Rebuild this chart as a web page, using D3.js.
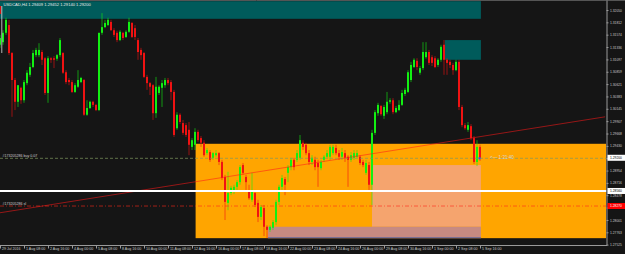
<!DOCTYPE html>
<html>
<head>
<meta charset="utf-8">
<script src="https://cdn.jsdelivr.net/npm/d3@7"></script>
<style>
  html, body { margin: 0; padding: 0; background: #151515; overflow: hidden; }
  svg { display: block; }
  text { font-family: "Liberation Sans", Arial, sans-serif; }
</style>
</head>
<body>
<div id="chart"></div>
<script>
// --- Data (USDCAD, H4) ---
const symbol = "USDCAD,H4";

// bar 0 = 29 Jul 2016 00:00, one bar every 4 hours
const opens = [
  1.3138,1.3143,1.3161,1.3176,1.3122,1.3070,1.3028,1.3055,1.3031,1.3064,
  1.3080,1.3095,1.3118,1.3118,1.3124,1.3112,1.3045,1.3112,1.3112,1.3111,
  1.3118,1.3122,1.3085,1.3070,1.3066,1.3047,1.3057,1.3066,1.3070,1.3003,
  1.3016,1.3028,1.3022,1.3012,1.3161,1.3172,1.3176,1.3182,1.3166,1.3161,
  1.3147,1.3161,1.3153,1.3163,1.3180,1.3170,1.3147,1.3128,1.3122,1.3076,
  1.3064,1.3060,1.3006,1.3045,1.3055,1.3060,1.3070,1.3066,1.3047,1.2977,
  1.3003,1.2987,1.2983,1.2974,1.2941,1.2945,1.2970,1.2958,1.2949,1.2929,
  1.2931,1.2920,1.2925,1.2929,1.2912,1.2883,1.2833,1.2852,1.2854,1.2864,
  1.2873,1.2906,1.2883,1.2854,1.2839,1.2852,1.2833,1.2806,1.2823,1.2787,
  1.2781,1.2785,1.2796,1.2835,1.2864,1.2879,1.2891,1.2902,1.2916,1.2916,
  1.2920,1.2949,1.2945,1.2929,1.2912,1.2916,1.2910,1.2900,1.2916,1.2922,
  1.2922,1.2929,1.2939,1.2929,1.2922,1.2929,1.2922,1.2916,1.2920,1.2922,
  1.2922,1.2912,1.2891,1.2906,1.2868,1.2968,1.3006,1.3020,1.3001,1.3008,
  1.3028,1.3031,1.3008,1.3012,1.3022,1.3043,1.3047,1.3070,1.3095,1.3107,
  1.3084,1.3093,1.3114,1.3124,1.3114,1.3112,1.3099,1.3109,1.3138,1.3109,
  1.3105,1.3099,1.3089,1.3105,1.3018,1.2983,1.2974,1.2981,1.2958,1.2912,
  1.29409
];
const highs = [
  1.3157,1.3166,1.3190,1.3186,1.3124,1.3074,1.3060,1.3057,1.3070,1.3089,
  1.3103,1.3128,1.3132,1.3141,1.3128,1.3114,1.3116,1.3114,1.3116,1.3120,
  1.3151,1.3124,1.3089,1.3074,1.3070,1.3064,1.3089,1.3076,1.3072,1.3031,
  1.3030,1.3030,1.3024,1.3161,1.3199,1.3186,1.3190,1.3186,1.3170,1.3165,
  1.3166,1.3163,1.3166,1.3190,1.3182,1.3176,1.3151,1.3132,1.3124,1.3080,
  1.3066,1.3062,1.3076,1.3060,1.3070,1.3074,1.3074,1.3070,1.3051,1.3008,
  1.3006,1.2993,1.2987,1.2989,1.2958,1.2977,1.2974,1.2962,1.2954,1.2939,
  1.2935,1.2931,1.2935,1.2931,1.2916,1.2887,1.2893,1.2866,1.2868,1.2877,
  1.2906,1.2910,1.2887,1.2868,1.2891,1.2858,1.2839,1.2829,1.2829,1.2790,
  1.2790,1.2800,1.2839,1.2868,1.2887,1.2883,1.2906,1.2920,1.2920,1.2935,
  1.2964,1.2954,1.2949,1.2935,1.2925,1.2922,1.2916,1.2916,1.2925,1.2935,
  1.2945,1.2945,1.2945,1.2935,1.2939,1.2935,1.2925,1.2931,1.2935,1.2935,
  1.2925,1.2916,1.2916,1.2912,1.2974,1.3012,1.3026,1.3022,1.3022,1.3047,
  1.3035,1.3035,1.3020,1.3031,1.3051,1.3055,1.3089,1.3105,1.3112,1.3112,
  1.3097,1.3143,1.3143,1.3128,1.3118,1.3116,1.3112,1.3138,1.3147,1.3112,
  1.3109,1.3103,1.3109,1.3109,1.3022,1.2987,1.2989,1.2985,1.2962,1.2954,
  1.29452
];
const lows = [
  1.3132,1.3138,1.3157,1.3118,1.2999,1.3012,1.3018,1.3024,1.3026,1.3060,
  1.3076,1.3093,1.3114,1.3114,1.3099,1.3041,1.3026,1.3103,1.3093,1.3107,
  1.3114,1.3082,1.3062,1.3060,1.3045,1.3045,1.3055,1.3064,1.3001,1.3001,
  1.3014,1.3018,1.3010,1.3010,1.3157,1.3170,1.3174,1.3165,1.3153,1.3143,
  1.3145,1.3147,1.3151,1.3161,1.3151,1.3147,1.3109,1.3109,1.3074,1.3051,
  1.3041,1.2993,1.2997,1.3041,1.3018,1.3055,1.3060,1.3031,1.2960,1.2974,
  1.2985,1.2964,1.2960,1.2925,1.2935,1.2935,1.2950,1.2941,1.2922,1.2925,
  1.2912,1.2916,1.2922,1.2906,1.2877,1.2800,1.2819,1.2848,1.2850,1.2858,
  1.2868,1.2887,1.2858,1.2839,1.2835,1.2825,1.2796,1.2800,1.2769,1.2765,
  1.2777,1.2781,1.2790,1.2829,1.2858,1.2848,1.2873,1.2896,1.2896,1.2912,
  1.2916,1.2935,1.2925,1.2906,1.2906,1.2896,1.2864,1.2896,1.2912,1.2920,
  1.2916,1.2925,1.2925,1.2916,1.2916,1.2912,1.2864,1.2912,1.2916,1.2920,
  1.2906,1.2902,1.2887,1.2858,1.2829,1.2964,1.3001,1.3001,1.2995,1.3004,
  1.3024,1.3004,1.3006,1.3010,1.3020,1.3039,1.3045,1.3066,1.3093,1.3089,
  1.3080,1.3089,1.3111,1.3099,1.3097,1.3093,1.3095,1.3105,1.3080,1.3080,
  1.3093,1.3080,1.3087,1.3012,1.2979,1.2974,1.2970,1.2954,1.2908,1.2904,
  1.29140
];
const closes = [
  1.3151,1.3161,1.3186,1.3122,1.3070,1.3028,1.3060,1.3031,1.3066,1.3084,
  1.3095,1.3122,1.3128,1.3128,1.3109,1.3045,1.3112,1.3109,1.3109,1.3118,
  1.3147,1.3084,1.3066,1.3066,1.3047,1.3060,1.3070,1.3074,1.3003,1.3016,
  1.3028,1.3022,1.3012,1.3161,1.3172,1.3180,1.3186,1.3166,1.3157,1.3147,
  1.3163,1.3151,1.3163,1.3182,1.3153,1.3153,1.3124,1.3118,1.3076,1.3064,
  1.3057,1.3006,1.3057,1.3057,1.3064,1.3070,1.3064,1.3047,1.2964,1.3003,
  1.2989,1.2968,1.2964,1.2945,1.2954,1.2970,1.2954,1.2949,1.2925,1.2935,
  1.2916,1.2929,1.2929,1.2912,1.2881,1.2835,1.2852,1.2862,1.2864,1.2873,
  1.2902,1.2891,1.2873,1.2842,1.2858,1.2829,1.2806,1.2825,1.2787,1.2781,
  1.2787,1.2796,1.2835,1.2864,1.2881,1.2868,1.2902,1.2916,1.2902,1.2929,
  1.2954,1.2941,1.2929,1.2912,1.2920,1.2902,1.2902,1.2912,1.2922,1.2929,
  1.2941,1.2941,1.2929,1.2922,1.2931,1.2920,1.2916,1.2925,1.2929,1.2929,
  1.2910,1.2906,1.2910,1.2868,1.2968,1.3008,1.3022,1.3004,1.3018,1.3028,
  1.3031,1.3008,1.3016,1.3022,1.3045,1.3051,1.3085,1.3099,1.3109,1.3095,
  1.3093,1.3124,1.3124,1.3103,1.3103,1.3095,1.3109,1.3134,1.3109,1.3103,
  1.3099,1.3089,1.3105,1.3018,1.2983,1.2977,1.2983,1.2958,1.2912,1.2941,
  1.29200
];

// time axis labels (bar index -> label)
const dateBars = [0, 8, 16, 24, 32, 40, 48, 56, 64, 72, 80, 88, 96, 104, 112, 120, 128, 136, 144, 152, 160];
const dateLabels = [
  "29 Jul 2016", "1 Aug 08:00", "2 Aug 16:00", "4 Aug 00:00", "5 Aug 08:00",
  "8 Aug 16:00", "10 Aug 00:00", "11 Aug 08:00", "12 Aug 16:00", "16 Aug 00:00",
  "17 Aug 08:00", "18 Aug 16:00", "22 Aug 00:00", "23 Aug 08:00", "24 Aug 16:00",
  "26 Aug 00:00", "29 Aug 08:00", "30 Aug 16:00", "1 Sep 00:00", "2 Sep 08:00",
  "5 Sep 16:00"
];

// price axis labels
const priceTicks = [
  1.32050, 1.31812, 1.31574, 1.31336, 1.31097, 1.30859, 1.30621, 1.30383, 1.30145, 1.29907,
  1.29668, 1.29430, 1.29192, 1.28954, 1.28716, 1.28478, 1.28240, 1.28001, 1.27763, 1.27525
];

// rectangles drawn on the chart: [start bar, end bar, top price, bottom price]
const zoneStart  = [0,      148.3,  65.2,   124,    89.3];
const zoneEnd    = [160.3,  160.3,  202,    160.3,  160.3];
const zoneTop    = [1.3222, 1.3147, 1.2947, 1.2906, 1.2787];
const zoneBottom = [1.3188, 1.3109, 1.2765, 1.2787, 1.2765];
const zoneColors = ["#005b5b", "#005b5b", "#ffa500", "#f5a46e", "#c68a82"];

// trend line: [bar, price] end points
const trendBars = [0, 201.7];
const trendPrices = [1.2814, 1.2999];

// order levels
const buyPrice = 1.2919;
const levelPrice = 1.2856;
const stopPrice = 1.2827;
const orderTicket = "#173205286";
const countdown = "<\u2014 1:21:40";

// --- Layout ---
const width = 625;
const height = 254;
const plotRight = 606.5;
const plotBottom = 245.5;

const svg = d3.select("#chart")
  .append("svg")
  .attr("width", width)
  .attr("height", height);

svg.append("rect").attr("width", width).attr("height", height).attr("fill", "#151515");

const x = d3.scaleLinear().domain([0, 160]).range([0, 480]);
const y = d3.scaleLinear().domain([1.32050, 1.27525]).range([10, 244.65]);

const plotG = svg.append("g");

// clip to the plot area
svg.append("clipPath").attr("id", "plotClip")
  .append("rect").attr("x", 0).attr("y", 1).attr("width", plotRight).attr("height", plotBottom - 1);
plotG.attr("clip-path", "url(#plotClip)");

// zones
plotG.selectAll("rect.zone")
  .data(zoneStart.map((s, i) => ({ s, e: zoneEnd[i], t: zoneTop[i], b: zoneBottom[i], c: zoneColors[i] })))
  .join("rect")
  .attr("class", "zone")
  .attr("x", d => x(d.s))
  .attr("y", d => y(d.t))
  .attr("width", d => x(d.e) - x(d.s))
  .attr("height", d => y(d.b) - y(d.t))
  .attr("fill", d => d.c);

// thin edge under the target zone
plotG.append("line")
  .attr("x1", x(zoneStart[4])).attr("x2", x(zoneEnd[4]))
  .attr("y1", y(zoneBottom[4]) - 0.5).attr("y2", y(zoneBottom[4]) - 0.5)
  .attr("stroke", "#6a6a9a").attr("stroke-width", 1);

// candles
const bars = opens.map((o, i) => ({ i, o, h: highs[i], l: lows[i], c: closes[i] }));
const up = "#12f012", down = "#f01212";

plotG.selectAll("line.wick")
  .data(bars)
  .join("line")
  .attr("class", "wick")
  .attr("x1", d => x(d.i)).attr("x2", d => x(d.i))
  .attr("y1", d => y(d.h)).attr("y2", d => y(d.l))
  .attr("stroke", d => d.c >= d.o ? up : down)
  .attr("stroke-width", 1)
  .attr("stroke-opacity", 0.6);

plotG.selectAll("rect.body")
  .data(bars)
  .join("rect")
  .attr("class", "body")
  .attr("x", d => x(d.i) - 1)
  .attr("y", d => y(Math.max(d.o, d.c)))
  .attr("width", 2)
  .attr("height", d => Math.max(1, Math.abs(y(d.o) - y(d.c))))
  .attr("fill", d => d.c >= d.o ? up : down);

// trend line
plotG.append("line")
  .attr("x1", x(trendBars[0])).attr("y1", y(trendPrices[0]))
  .attr("x2", x(trendBars[1])).attr("y2", y(trendPrices[1]))
  .attr("stroke", "#ff1a1a").attr("stroke-width", 1).attr("stroke-opacity", 0.55);

// buy order line
plotG.append("line")
  .attr("x1", 0).attr("x2", plotRight)
  .attr("y1", y(buyPrice)).attr("y2", y(buyPrice))
  .attr("stroke", "#7f9a60").attr("stroke-width", 1).attr("stroke-opacity", 0.7)
  .attr("stroke-dasharray", "3,2");

// white level line
plotG.append("line")
  .attr("x1", 0).attr("x2", plotRight)
  .attr("y1", y(levelPrice)).attr("y2", y(levelPrice))
  .attr("stroke", "#ffffff").attr("stroke-width", 2);

// stop loss line (dash-dot)
plotG.append("line")
  .attr("x1", 0).attr("x2", plotRight)
  .attr("y1", y(stopPrice)).attr("y2", y(stopPrice))
  .attr("stroke", "#ff2a1a").attr("stroke-width", 1).attr("stroke-opacity", 0.6)
  .attr("stroke-dasharray", "4,2,1,2");

// order labels
plotG.append("text")
  .attr("x", 2.5).attr("y", y(buyPrice) - 1)
  .attr("font-size", 3.6).attr("fill", "#d0d0d0")
  .text(`${orderTicket} buy 0.07`);
plotG.append("text")
  .attr("x", 2.5).attr("y", y(stopPrice) - 1)
  .attr("font-size", 3.6).attr("fill", "#d0d0d0")
  .text(`${orderTicket} sl`);

// last order marker
plotG.append("rect")
  .attr("x", x(160) - 1.5).attr("y", y(buyPrice) - 1)
  .attr("width", 2).attr("height", 2).attr("fill", "#3050ff");

// candle countdown
plotG.append("text")
  .attr("x", x(160) + 10).attr("y", y(closes[160]) + 1.6)
  .attr("font-size", 4.6).attr("fill", "#d8d8d8")
  .text(countdown);

// header
const last = bars[bars.length - 1];
svg.append("text")
  .attr("x", 3.5).attr("y", 6.3)
  .attr("font-size", 4.1).attr("fill", "#e8e8e8")
  .text(`${symbol}  ${last.o.toFixed(5)} ${last.h.toFixed(5)} ${last.l.toFixed(5)} ${last.c.toFixed(5)}`);

// small panel remnant at the top-left edge
svg.append("rect").attr("x", 0).attr("y", 6).attr("width", 1.2).attr("height", 8).attr("fill", "#d01010");
svg.append("line").attr("x1", 1.8).attr("x2", 1.8).attr("y1", 6).attr("y2", 53)
  .attr("stroke", "#e0e0e0").attr("stroke-width", 0.8);

// frame
svg.append("line").attr("x1", 0).attr("x2", width).attr("y1", 0.5).attr("y2", 0.5)
  .attr("stroke", "#555").attr("stroke-width", 1);

// price boxes on the right scale
const boxes = [
  { p: closes[160], fill: "#ffffff", text: "#000000" },
  { p: levelPrice, fill: "#ffffff", text: "#000000" },
  { p: stopPrice, fill: "#ff0000", text: "#ffffff" }
];

// --- Axes ---
// labels hidden behind a price box are not drawn (as on the terminal)
const visibleTicks = priceTicks.filter(t => boxes.every(b => Math.abs(y(t) - y(b.p)) > 4.2));

const yAxis = d3.axisRight(y)
  .tickValues(priceTicks)
  .tickFormat(d => visibleTicks.includes(d) ? d3.format(".5f")(d) : "")
  .tickSize(2)
  .tickPadding(1.5);

const yAxisG = svg.append("g")
  .attr("transform", `translate(${plotRight},0)`)
  .call(yAxis);
yAxisG.select(".domain").attr("stroke", "#9a9a9a").attr("d", `M0.5,0.5V${plotBottom}`);
yAxisG.selectAll(".tick line").attr("stroke", "#9a9a9a");
yAxisG.selectAll(".tick text")
  .attr("fill", "#c8c8c8").attr("font-size", 3.3)
  .attr("font-family", "Liberation Sans, Arial, sans-serif");

const xAxis = d3.axisBottom(x)
  .tickValues(dateBars)
  .tickFormat((d, i) => dateLabels[i])
  .tickSize(3);

const xAxisG = svg.append("g")
  .attr("transform", `translate(0,${plotBottom})`)
  .call(xAxis);
xAxisG.select(".domain").attr("stroke", "#9a9a9a").attr("d", `M0,0H${plotRight + 0.5}`);
xAxisG.selectAll(".tick line").attr("stroke", "#9a9a9a");
xAxisG.selectAll(".tick text")
  .attr("fill", "#c8c8c8").attr("font-size", 3.6)
  .attr("font-family", "Liberation Sans, Arial, sans-serif")
  .attr("text-anchor", "start")
  .attr("x", 1.5).attr("y", 2.2);

const boxG = svg.append("g");
boxG.selectAll("rect")
  .data(boxes)
  .join("rect")
  .attr("x", plotRight + 1)
  .attr("y", d => y(d.p) - 3)
  .attr("width", width - plotRight - 1)
  .attr("height", 6)
  .attr("fill", d => d.fill);
boxG.selectAll("text")
  .data(boxes)
  .join("text")
  .attr("x", plotRight + 3.5)
  .attr("y", d => y(d.p) + 1.2)
  .attr("font-size", 3.3)
  .attr("fill", d => d.text)
  .text(d => d3.format(".5f")(d.p));
</script>
</body>
</html>
